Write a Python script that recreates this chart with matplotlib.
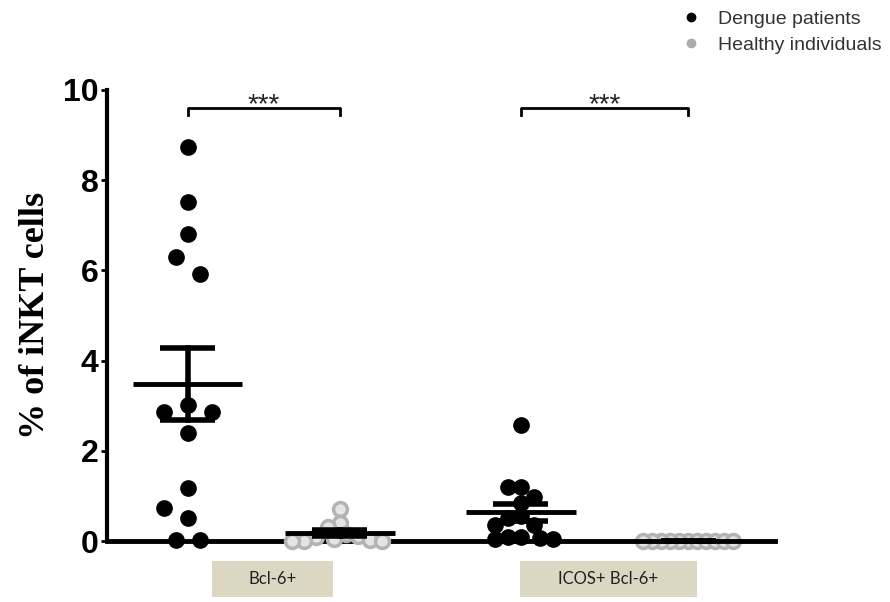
import numpy as np
import matplotlib.pyplot as plt
from matplotlib.lines import Line2D
from matplotlib.patches import Rectangle

# % of iNKT cells per donor
dengue_bcl6 = [8.73, 7.51, 6.80, 6.29, 5.91, 3.02, 2.87, 2.87, 2.40, 1.18, 0.73, 0.51, 0.02, 0.02]
healthy_bcl6 = [0.71, 0.40, 0.31, 0.15, 0.12, 0.10, 0.05, 0.02, 0.0, 0.0, 0.0]
dengue_icos = [2.57, 1.20, 1.20, 0.98, 0.84, 0.55, 0.50, 0.35, 0.35, 0.10, 0.08, 0.07, 0.05, 0.05]
healthy_icos = [0.0] * 11

categories = ["Bcl-6+", "ICOS+ Bcl-6+"]
stars = ["***", "***"]

fig = plt.figure(figsize=(8.9, 6.02), dpi=100)
ax = fig.add_axes([0.1202, 0.1013, 0.7506, 0.7492])

pos = [1.0, 2.0, 3.19, 4.29]
ax.set_xlim(0.47, 4.86)
ax.set_ylim(0, 10)

# pixels per data unit, used to lay out the dot swarm
xpx = 0.7506 * 890 / (4.86 - 0.47)
ypx = 0.7492 * 602 / 10


def swarm(vals, center, dmin):
    step = dmin / 2
    placed = []
    offs = np.zeros(len(vals))
    for i in sorted(range(len(vals)), key=lambda j: -vals[j]):
        y = vals[i] * ypx
        k = 0
        spot = None
        while spot is None:
            for c in ([0] if k == 0 else [-k * step, k * step]):
                if all(np.hypot(c - px, y - py) >= dmin for px, py in placed):
                    spot = c
                    break
            k += 1
        placed.append((spot, y))
        offs[i] = spot
    return center + offs / xpx


groups = [
    (dengue_bcl6, pos[0], 24, "dengue"),
    (healthy_bcl6, pos[1], 12, "healthy"),
    (dengue_icos, pos[2], 13, "dengue"),
    (healthy_icos, pos[3], 9, "healthy"),
]

for vals, c, dmin, kind in groups:
    xs = swarm(vals, c, dmin)
    if kind == "dengue":
        ax.plot(xs, vals, "o", ms=11, color="black", clip_on=False, zorder=4)
    else:
        ax.plot(xs, vals, "o", ms=10, mfc="#e4e4e4", mec="#b3b3b3", mew=2.5,
                clip_on=False, zorder=4)
    v = np.array(vals)
    m = v.mean()
    sem = v.std(ddof=1) / np.sqrt(len(v))
    ax.plot([c - 0.36, c + 0.36], [m, m], color="black", lw=3.5, zorder=5,
            clip_on=False, solid_capstyle="butt")
    ax.plot([c, c], [m - sem, m + sem], color="black", lw=4, zorder=5,
            clip_on=False)
    for e in (m - sem, m + sem):
        ax.plot([c - 0.18, c + 0.18], [e, e], color="black", lw=4, zorder=5,
                clip_on=False, solid_capstyle="butt")

# significance brackets
for (a, b), s in zip([(pos[0], pos[1]), (pos[2], pos[3])], stars):
    ax.plot([a, a, b, b], [9.45, 9.6, 9.6, 9.45], color="black", lw=2,
            clip_on=False)
    ax.text((a + b) / 2, 9.5, s, ha="center", va="baseline", fontsize=20,
            fontfamily="Liberation Sans", color="#222222")

ax.spines["top"].set_visible(False)
ax.spines["right"].set_visible(False)
ax.spines["left"].set_linewidth(3)
ax.spines["bottom"].set_linewidth(3.5)
ax.spines["bottom"].set_zorder(3)
ax.set_xticks([])
ax.set_yticks([0, 2, 4, 6, 8, 10])
ax.tick_params(axis="y", length=4, width=2, pad=2)
for t in ax.get_yticklabels():
    t.set_fontfamily("Liberation Sans")
    t.set_fontweight("bold")
    t.set_fontsize(23)
ax.set_ylabel("% of iNKT cells", fontfamily="Liberation Serif",
              fontweight="bold", fontsize=26, labelpad=8)

# category boxes under the axis
for (x0, x1), lab in zip([(0.2382, 0.3742), (0.5843, 0.7831)], categories):
    fig.patches.append(Rectangle((x0, 0.0083), x1 - x0, 0.0598,
                                 transform=fig.transFigure,
                                 facecolor="#dcd7c3", edgecolor="none"))
    fig.text((x0 + x1) / 2, 0.0382, lab, ha="center", va="center",
             fontfamily="Lato", fontsize=12, color="#222222")

handles = [
    Line2D([], [], ls="", marker="o", ms=6, color="black"),
    Line2D([], [], ls="", marker="o", ms=6, color="#aaaaaa"),
]
fig.legend(handles, ["Dengue patients", "Healthy individuals"],
           loc="upper right", bbox_to_anchor=(1.01, 1.012), frameon=False,
           prop={"family": "Liberation Sans", "size": 14},
           handletextpad=0.9, labelspacing=0.45, handlelength=1.0,
           labelcolor="#333333")

fig.savefig("out.png", dpi=100)
